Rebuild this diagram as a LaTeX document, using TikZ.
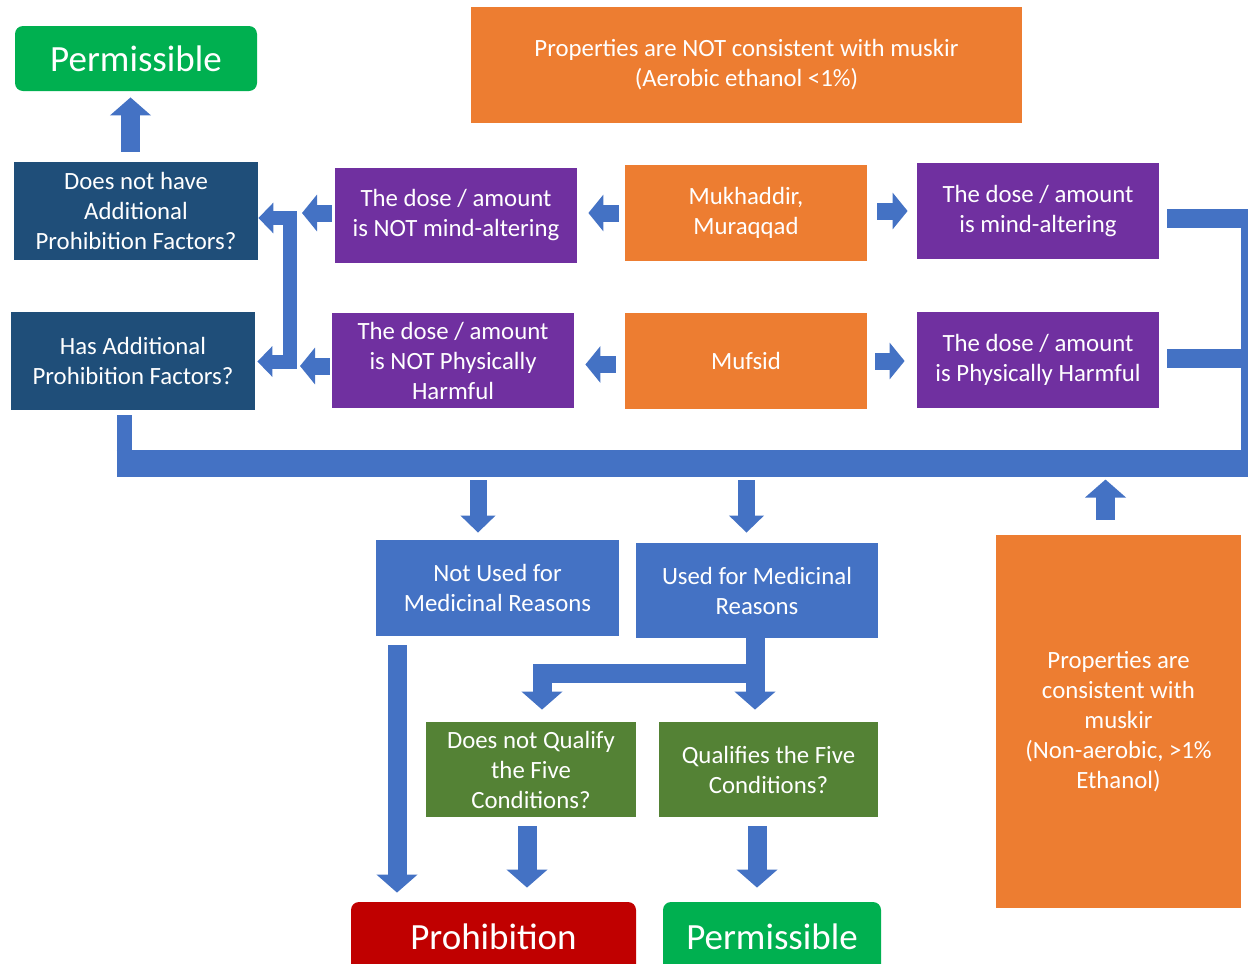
\documentclass[tikz,border=0pt]{standalone}
\usepackage{fontspec}
\setmainfont{Carlito}
\usepackage{xcolor}
\usetikzlibrary{arrows.meta, positioning, calc}

\definecolor{orangebox}{HTML}{ED7D31}
\definecolor{purplebox}{HTML}{7030A0}
\definecolor{navybox}{HTML}{1F4E79}
\definecolor{bluebox}{HTML}{4472C4}
\definecolor{greenbox}{HTML}{00B050}
\definecolor{olivebox}{HTML}{548235}
\definecolor{redbox}{HTML}{C00000}

\begin{document}
\begin{tikzpicture}[x=0.5pt, y=-0.5pt,
  box/.style={rectangle, inner sep=0pt, text=white, align=center, minimum width=121pt, minimum height=48pt, font=\fontsize{12.4}{15}\selectfont},
  result/.style={box, rounded corners=4pt, font=\fontsize{18.5}{22}\selectfont},
  flow/.style={draw=bluebox, line width=9.5pt, -{Triangle[length=9pt,width=20pt]}},
  busflow/.style={draw=bluebox, line width=8.5pt, -{Triangle[length=8.5pt,width=17pt]}},
  smallflow/.style={draw=bluebox, line width=8.5pt, -{Triangle[length=7.5pt,width=18pt]}},
  bar/.style={draw=bluebox, line width=#1}]
\useasboundingbox (0,0) rectangle (1248,964);

\node (permtop) [result, fill=greenbox, minimum height=32.5pt] at (136,58.5) {Permissible};
\node (notcons) [box, fill=orangebox, minimum width=275.5pt, minimum height=58pt] at (746.5,65) {Properties are NOT consistent with muskir\\(Aerobic ethanol <1\%)};
\node (nohave) [box, fill=navybox, minimum width=122pt, minimum height=49pt] at (136,211) {Does not have\\Additional\\Prohibition Factors?};
\node (hasadd) [box, fill=navybox, minimum width=122pt, minimum height=49pt] at (133,361) {Has Additional\\Prohibition Factors?};
\node (notmind) [box, fill=purplebox, minimum height=47.5pt] at (456,215.5) {The dose / amount\\is NOT mind-altering};
\node (notharm) [box, fill=purplebox, minimum height=47.5pt] at (453,360.5) {The dose / amount\\is NOT Physically\\Harmful};
\node (mukh) [box, fill=orangebox] at (746,213) {Mukhaddir,\\Muraqqad};
\node (mufsid) [box, fill=orangebox] at (746,361) {Mufsid};
\node (mind) [box, fill=purplebox] at (1038,211) {The dose / amount\\is mind-altering};
\node (harm) [box, fill=purplebox] at (1038,360) {The dose / amount\\is Physically Harmful};
\node (notmed) [box, fill=bluebox, minimum width=121.5pt] at (497.5,588) {Not Used for\\Medicinal Reasons};
\node (med) [box, fill=bluebox, minimum height=47.5pt] at (757,590.5) {Used for Medicinal\\Reasons};
\node (cons) [box, fill=orangebox, minimum width=122.5pt, minimum height=186.5pt] at (1118.5,721.5) {Properties are\\consistent with\\muskir\\(Non-aerobic, >1\%\\Ethanol)};
\node (noqual) [box, fill=olivebox, minimum width=105pt, minimum height=47.5pt] at (531,769.5) {Does not Qualify\\the Five\\Conditions?};
\node (qual) [box, fill=olivebox, minimum width=109.5pt, minimum height=47.5pt] at (768.5,769.5) {Qualifies the Five\\Conditions?};
\node (prohib) [result, fill=redbox, minimum width=142.5pt, minimum height=35pt] at (493.5,937) {Prohibition};
\node (permbot) [result, fill=greenbox, minimum width=109pt, minimum height=35pt] at (772,937) {Permissible};

% junction points
\coordinate (bt) at (290,218);
\coordinate (bb) at (290,361.5);
\coordinate (ntip) at (302,213);
\coordinate (htip) at (300,366);
\coordinate (busL) at (116.5,463.5);
\coordinate (busR) at (1248,463.5);
\coordinate (rtop) at (1244.5,209);
\coordinate (rbot) at (1244.5,477);
\coordinate (split) at (755,673);

% left side
\draw [flow] ($(nohave.north)+(-5.5,-10)$) -- ($(permtop.south)+(-5.5,6)$);
\draw [bar=7pt, line join=miter, shorten >=1pt, {Triangle[length=7.5pt,width=15pt]}-{Triangle[length=7.5pt,width=15pt]}] (bt -| nohave.east) -- (bt) -- (bb) -- (bb -| hasadd.east);
\draw [smallflow, shorten <=1.5pt] (notmind.west |- ntip) -- (ntip);
\draw [smallflow, shorten <=1pt] (notharm.west |- htip) -- (htip);
\draw [smallflow, shorten <=3pt, shorten >=5.5pt] (mukh.west) -- (mukh.west -| notmind.east);
\draw [smallflow, shorten <=4.5pt, shorten >=5.5pt] ($(mufsid.west)+(0,3.5)$) -- ($(notharm.east |- mufsid.west)+(0,3.5)$);

% right side
\draw [smallflow, shorten <=5pt, shorten >=4.5pt] ($(mukh.east)+(0,-2)$) -- (mind.west);
\draw [smallflow, shorten <=4pt, shorten >=6pt] (mufsid.east) -- (mufsid.east -| harm.west);
\draw [bar=9.5pt] ($(mind.east)+(8,7.5)$) -- ($(mind.east -| busR)+(0,7.5)$);
\draw [bar=9.5pt] ($(harm.east)+(8,-1.5)$) -- ($(harm.east -| busR)+(0,-1.5)$);
\draw [bar=3.5pt] (rtop) -- (rbot);

% bus
\draw [bar=13.5pt] (busL) -- (busR);
\draw [bar=7.5pt] ($(hasadd.south)+(-8.5,5)$) -- ($(busL)+(8,0)$);
\draw [busflow, shorten <=8.25pt] ($(busL -| notmed.north)+(-19.5,0)$) -- ($(notmed.north)+(-19.5,-7)$);
\draw [busflow, shorten <=8.25pt] ($(busL -| med.north)+(-10.5,0)$) -- ($(med.north)+(-10.5,-10)$);
\draw [flow] ($(cons.north)+(-13,-15)$) -- ($(busL -| cons.north)+(-13,16)$);

% lower part
\draw [flow, line join=miter] ($(med.south)+(-2,0)$) -- ($(qual.north)+(-13.5,-12)$);
\draw [flow, line join=miter] (split) -| ($(noqual.north)+(11,-12)$);
\draw [flow] ($(notmed.south)+(-100.5,9)$) -- ($(notmed.south |- prohib.north)+(-100.5,-9)$);
\draw [flow] ($(noqual.south)+(-4,9)$) -- ($(noqual.south |- prohib.north)+(-4,-14)$);
\draw [flow] ($(qual.south)+(-11.5,9)$) -- ($(qual.south |- permbot.north)+(-11.5,-14)$);
\end{tikzpicture}
\end{document}
